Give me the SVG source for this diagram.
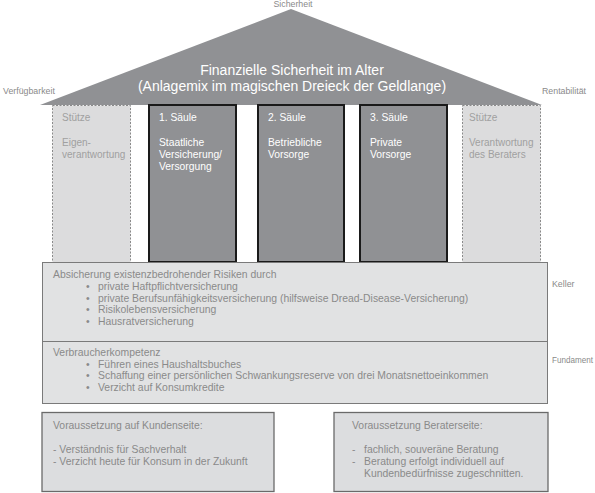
<svg xmlns="http://www.w3.org/2000/svg" width="595" height="493" viewBox="0 0 595 493">
<style>
text{font-family:"Liberation Sans",Arial,sans-serif}
.lbl{font-size:8.8px;fill:#8a8a8a}
.title{font-size:14px;fill:#ffffff}
.pt{font-size:10.3px;fill:#ffffff}
.st{font-size:10px;fill:#a0a0a0}
.bt{font-size:10.4px;fill:#8a8a8a}
.dark{fill:#909194;stroke:#1a1a1a;stroke-width:2}
.stuetze{fill:#dcdcdd;stroke:#8a8a8a;stroke-width:1;stroke-dasharray:2,1.5}
.box{fill:#e1e2e3;stroke:#7a7a7a;stroke-width:1}
.box2{fill:#dcdddf;stroke:#6a6a6a;stroke-width:1.3}
</style>
<rect width="595" height="493" fill="#ffffff"/>
<g id="roof">
<polygon points="40,105 291,9 542,105" fill="#909194"/>
<text class="title" x="292" y="75" text-anchor="middle">Finanzielle Sicherheit im Alter</text>
<text class="title" x="292" y="91" text-anchor="middle">(Anlagemix im magischen Dreieck der Geldlange)</text>
</g>
<g id="labels">
<text class="lbl" x="293" y="7" text-anchor="middle">Sicherheit</text>
<text class="lbl" x="3" y="94">Verfügbarkeit</text>
<text class="lbl" x="542" y="94">Rentabilität</text>
<text class="lbl" x="552" y="287">Keller</text>
<text class="lbl" x="552" y="363" textLength="41" lengthAdjust="spacingAndGlyphs">Fundament</text>
</g>
<g id="stuetze-links">
<rect class="stuetze" x="52.5" y="105.5" width="78" height="157"/>
<text class="st" x="62" y="121">Stütze</text>
<text class="st" x="62" y="146">Eigen-</text>
<text class="st" x="62" y="158">verantwortung</text>
</g>
<g id="saeule1">
<rect class="dark" x="149" y="105" width="87" height="157"/>
<text class="pt" x="159" y="121">1. Säule</text>
<text class="pt" x="159" y="146">Staatliche</text>
<text class="pt" x="159" y="158">Versicherung/</text>
<text class="pt" x="159" y="170">Versorgung</text>
</g>
<g id="saeule2">
<rect class="dark" x="258" y="105" width="86" height="157"/>
<text class="pt" x="268" y="121">2. Säule</text>
<text class="pt" x="268" y="146">Betriebliche</text>
<text class="pt" x="268" y="158">Vorsorge</text>
</g>
<g id="saeule3">
<rect class="dark" x="360" y="105" width="87" height="157"/>
<text class="pt" x="370" y="121">3. Säule</text>
<text class="pt" x="370" y="146">Private</text>
<text class="pt" x="370" y="158">Vorsorge</text>
</g>
<g id="stuetze-rechts">
<rect class="stuetze" x="462.5" y="105.5" width="78" height="157"/>
<text class="st" x="469" y="121">Stütze</text>
<text class="st" x="469" y="146">Verantwortung</text>
<text class="st" x="469" y="158">des Beraters</text>
</g>
<g id="keller">
<rect class="box" x="42.5" y="262.5" width="505" height="79"/>
<text class="bt" x="53" y="278">Absicherung existenzbedrohender Risiken durch</text>
<g class="bt">
<text x="86" y="290">•</text><text x="98" y="290">private Haftpflichtversicherung</text>
<text x="86" y="301.5">•</text><text x="98" y="301.5">private Berufsunfähigkeitsversicherung (hilfsweise Dread-Disease-Versicherung)</text>
<text x="86" y="313">•</text><text x="98" y="313">Risikolebensversicherung</text>
<text x="86" y="325">•</text><text x="98" y="325">Hausratversicherung</text>
</g>
</g>
<g id="fundament">
<rect class="box" x="42.5" y="341.5" width="505" height="62"/>
<text class="bt" x="53" y="356">Verbraucherkompetenz</text>
<g class="bt">
<text x="86" y="367.5">•</text><text x="98" y="367.5">Führen eines Haushaltsbuches</text>
<text x="86" y="379">•</text><text x="98" y="379">Schaffung einer persönlichen Schwankungsreserve von drei Monatsnettoeinkommen</text>
<text x="86" y="391">•</text><text x="98" y="391">Verzicht auf Konsumkredite</text>
</g>
</g>
<g id="kundenseite">
<rect class="box2" x="42" y="412.5" width="232" height="79"/>
<text class="bt" x="53" y="429">Voraussetzung auf Kundenseite:</text>
<text class="bt" x="53" y="453">- Verständnis für Sachverhalt</text>
<text class="bt" x="53" y="465">- Verzicht heute für Konsum in der Zukunft</text>
</g>
<g id="beraterseite">
<rect class="box2" x="334" y="412.5" width="214" height="79"/>
<text class="bt" x="352" y="429">Voraussetzung Beraterseite:</text>
<text class="bt" x="352" y="453">-</text><text class="bt" x="364" y="453">fachlich, souveräne Beratung</text>
<text class="bt" x="352" y="465">-</text><text class="bt" x="364" y="465">Beratung erfolgt individuell auf</text>
<text class="bt" x="364" y="477">Kundenbedürfnisse zugeschnitten.</text>
</g>
<g id="connectors"></g>
</svg>
